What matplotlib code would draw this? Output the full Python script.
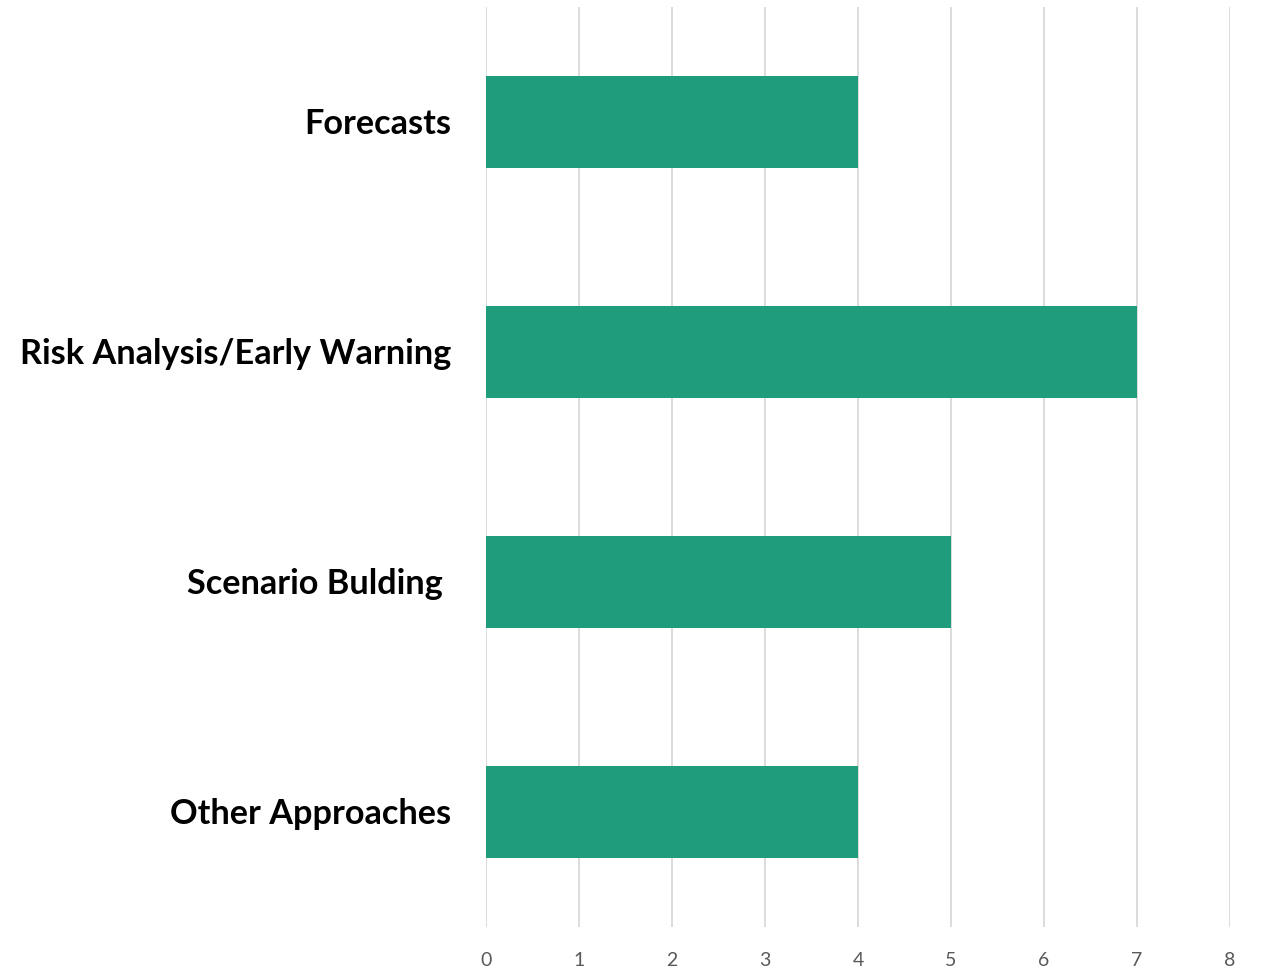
import matplotlib
matplotlib.use("Agg")
import matplotlib.pyplot as plt

categories = ["Forecasts", "Risk Analysis/Early Warning", "Scenario Bulding ", "Other Approaches"]
values = [4, 7, 5, 4]
xticks = [0, 1, 2, 3, 4, 5, 6, 7, 8]

W, H = 1263, 969
fig = plt.figure(figsize=(W / 100, H / 100), dpi=100)
left, right = 486 / W, 1230 / W
bottom, top = 1 - 926.5 / H, 1 - 6.5 / H
ax = fig.add_axes([left, bottom, right - left, top - bottom])

ypos = list(range(len(categories)))
ax.barh(ypos, values, height=0.4, color="#1F9C7B", zorder=3)
ax.set_xlim(0, 8)
ax.set_ylim(len(categories) - 0.5, -0.5)
ax.set_xticks(xticks)
ax.set_xticklabels([str(t) for t in xticks], fontsize=14, color="#595959", family="Lato")
ax.set_yticks(ypos)
ax.set_yticklabels(categories, fontsize=24.7, fontweight="bold", family="Lato", color="black")
ax.tick_params(axis="y", length=0, pad=25)
ax.tick_params(axis="x", length=0, pad=18)
ax.grid(axis="x", color="#D9D9D9", linewidth=1.3, zorder=0)
for s in ax.spines.values():
    s.set_visible(False)

fig.savefig("out.png", dpi=100, facecolor="white")
